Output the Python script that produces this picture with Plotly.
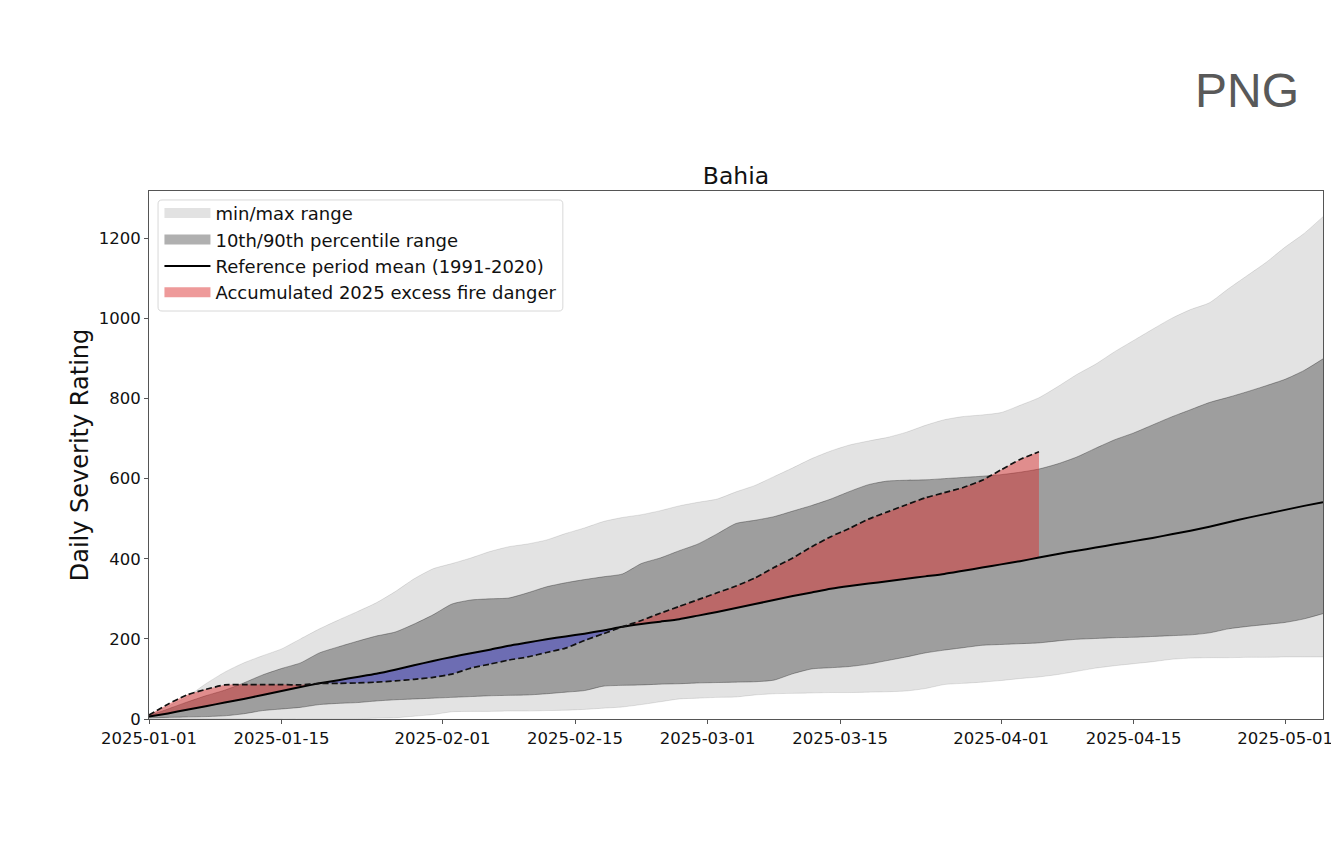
import pandas as pd
import plotly.graph_objects as go

start_date = "2025-01-01"
period_count = 63
step = "2D"
tick_dates = ["2025-01-01", "2025-01-15", "2025-02-01", "2025-02-15", "2025-03-01",
              "2025-03-15", "2025-04-01", "2025-04-15", "2025-05-01"]
y_ticks = [0, 200, 400, 600, 800, 1000, 1200]

range_max = [10, 32, 55, 88, 117, 140, 158, 175, 200, 225, 247, 268, 290, 318, 350, 375,
             388, 402, 418, 430, 437, 447, 463, 477, 493, 503, 510, 520, 532, 541, 549, 567,
             583, 605, 627, 650, 669, 684, 694, 703, 716, 733, 747, 755, 759, 765, 783, 802,
             830, 860, 886, 917, 945, 973, 1000, 1022, 1039, 1074, 1107, 1140, 1178, 1212, 1254]
range_min = [0, 0, 0, 0, 0, 0, 0, 0, 1, 1, 1, 1, 2, 3, 7, 11,
             18, 19, 19, 20, 20, 21, 22, 24, 27, 30, 36, 43, 50, 52, 54, 55,
             60, 63, 64, 65, 66, 66, 67, 68, 70, 76, 86, 89, 92, 96, 101, 105,
             111, 119, 127, 133, 138, 143, 149, 152, 153, 153, 154, 154, 155, 155, 155]
p90 = [8, 25, 42, 58, 72, 90, 110, 126, 140, 165, 180, 194, 207, 217, 237, 260,
       287, 297, 300, 302, 315, 330, 340, 348, 355, 362, 388, 402, 420, 437, 462, 488,
       496, 505, 519, 533, 549, 568, 585, 594, 596, 597, 600, 603, 606, 610, 616, 624,
       637, 654, 676, 697, 714, 734, 754, 772, 790, 803, 817, 832, 848, 870, 899]
p10 = [3, 4, 5, 6, 8, 13, 21, 25, 29, 36, 39, 41, 45, 48, 50, 52,
       54, 56, 58, 59, 60, 63, 67, 71, 82, 84, 85, 87, 88, 90, 91, 92,
       93, 97, 113, 125, 128, 131, 137, 146, 155, 165, 172, 178, 184, 186, 188, 190,
       195, 199, 201, 203, 204, 206, 208, 210, 215, 225, 231, 236, 241, 250, 263]
mean = [6, 14, 23, 32, 41, 50, 60, 70, 80, 89, 97, 105, 113, 123, 134, 145,
        155, 164, 173, 183, 191, 199, 206, 213, 221, 230, 237, 243, 249, 258, 267, 277,
        287, 297, 307, 316, 325, 332, 338, 344, 350, 356, 362, 370, 378, 386, 394, 403,
        412, 420, 428, 436, 444, 452, 461, 470, 480, 491, 502, 512, 522, 532, 541]
y2025 = [10, 37, 60, 74, 85, 86, 86, 86, 85, 89, 89, 90, 92, 95, 99, 104,
         112, 127, 137, 147, 155, 166, 177, 196, 213, 230, 246, 264, 281, 298, 315, 332,
         352, 378, 402, 430, 455, 476, 499, 517, 535, 552, 565, 578, 596, 622, 648, 667]

dates = pd.date_range(start_date, periods=period_count, freq=step)
d25 = dates[:len(y2025)]
m25 = mean[:len(y2025)]
upper_red = [max(a, b) for a, b in zip(y2025, m25)]
lower_blue = [min(a, b) for a, b in zip(y2025, m25)]

FONT = "DejaVu Sans"
SM = 0.6


def ln(color, width, **kw):
    return dict(color=color, width=width, shape="spline", smoothing=SM, **kw)


fig = go.Figure()
fig.add_trace(go.Scatter(x=dates, y=range_min, mode="lines", line=ln("rgba(0,0,0,0.1)", 1),
                         showlegend=False, hoverinfo="skip"))
fig.add_trace(go.Scatter(x=dates, y=range_max, mode="lines", line=ln("rgba(0,0,0,0.1)", 1),
                         fill="tonexty", fillcolor="#e3e3e3", showlegend=False))
fig.add_trace(go.Scatter(x=dates, y=p10, mode="lines", line=ln("rgba(0,0,0,0.3)", 1),
                         showlegend=False, hoverinfo="skip"))
fig.add_trace(go.Scatter(x=dates, y=p90, mode="lines", line=ln("rgba(0,0,0,0.3)", 1),
                         fill="tonexty", fillcolor="rgba(0,0,0,0.3)", showlegend=False))
fig.add_trace(go.Scatter(x=d25, y=m25, mode="lines", line=ln("rgba(0,0,0,0)", 0), showlegend=False, hoverinfo="skip"))
fig.add_trace(go.Scatter(x=d25, y=upper_red, mode="lines", line=ln("rgba(0,0,0,0)", 0), fill="tonexty",
                         fillcolor="rgba(221,44,44,0.47)", showlegend=False))
fig.add_trace(go.Scatter(x=d25, y=m25, mode="lines", line=ln("rgba(0,0,0,0)", 0), showlegend=False, hoverinfo="skip"))
fig.add_trace(go.Scatter(x=d25, y=lower_blue, mode="lines", line=ln("rgba(0,0,0,0)", 0), fill="tonexty",
                         fillcolor="rgba(60,60,200,0.5)", showlegend=False, hoverinfo="skip"))
fig.add_trace(go.Scatter(x=dates, y=mean, mode="lines", line=ln("black", 2), showlegend=False))
fig.add_trace(go.Scatter(x=d25, y=y2025, mode="lines", line=ln("#111111", 1.7, dash="6px,3px"), showlegend=False))

# legend keys
fig.add_trace(go.Scatter(x=[None], y=[None], mode="lines", line=dict(color="#e2e2e2", width=10),
                         name="min/max range"))
fig.add_trace(go.Scatter(x=[None], y=[None], mode="lines", line=dict(color="#b0b0b0", width=10),
                         name="10th/90th percentile range"))
fig.add_trace(go.Scatter(x=[None], y=[None], mode="lines", line=dict(color="black", width=2),
                         name="Reference period mean (1991-2020)"))
fig.add_trace(go.Scatter(x=[None], y=[None], mode="lines", line=dict(color="#ee9a9a", width=10),
                         name="Accumulated 2025 excess fire danger"))

axis_common = dict(showline=True, mirror=True, linecolor="#555555", linewidth=1, showgrid=False, zeroline=False,
                   ticks="outside", ticklen=4, tickwidth=1, tickcolor="#555555",
                   tickfont=dict(family=FONT, size=16.5, color="#111111"))

# rounded legend frame, in fractions of the plot box
bx0, bx1, by0, by1 = 0.0077, 0.3525, 0.7727, 0.983
rx, ry = 0.0034, 0.0076
frame = (f"M{bx0+rx},{by0} L{bx1-rx},{by0} Q{bx1},{by0} {bx1},{by0+ry} L{bx1},{by1-ry} Q{bx1},{by1} {bx1-rx},{by1} "
         f"L{bx0+rx},{by1} Q{bx0},{by1} {bx0},{by1-ry} L{bx0},{by0+ry} Q{bx0},{by0} {bx0+rx},{by0} Z")

fig.update_layout(
    width=1339, height=860, autosize=False,
    margin=dict(l=141, r=24, t=183, b=149, pad=0),
    paper_bgcolor="white", plot_bgcolor="white",
    font=dict(family=FONT, color="#111111"),
    xaxis=dict(range=[dates[0], dates[-1]], tickvals=list(pd.to_datetime(tick_dates)), tickformat="%Y-%m-%d", **axis_common),
    yaxis=dict(range=[0, 1318], tickvals=y_ticks,
               title=dict(text="Daily Severity Rating", font=dict(family=FONT, size=24, color="#111111"), standoff=3),
               **axis_common),
    title=dict(text="Bahia", font=dict(family=FONT, size=23.5, color="#111111"), x=0.5, xref="paper",
               xanchor="center", y=1, yref="paper", yanchor="bottom", pad=dict(b=7)),
    legend=dict(x=0.0089, y=0.9926, xanchor="left", yanchor="top", bgcolor="rgba(0,0,0,0)",
                borderwidth=0, font=dict(family=FONT, size=18, color="#111111"),
                itemwidth=46, tracegroupgap=0, traceorder="normal"),
    shapes=[dict(type="path", path=frame, xref="paper", yref="paper", fillcolor="rgba(255,255,255,0.8)",
                 line=dict(color="#d8d8d8", width=1), layer="above")],
    annotations=[dict(text="PNG", xref="paper", yref="paper", x=1.0, xanchor="left", xshift=-130, y=1.0, yanchor="bottom",
                      yshift=72, showarrow=False, font=dict(family="Liberation Sans", size=48, color="#595959"))],
)
fig.write_html("out.html")
